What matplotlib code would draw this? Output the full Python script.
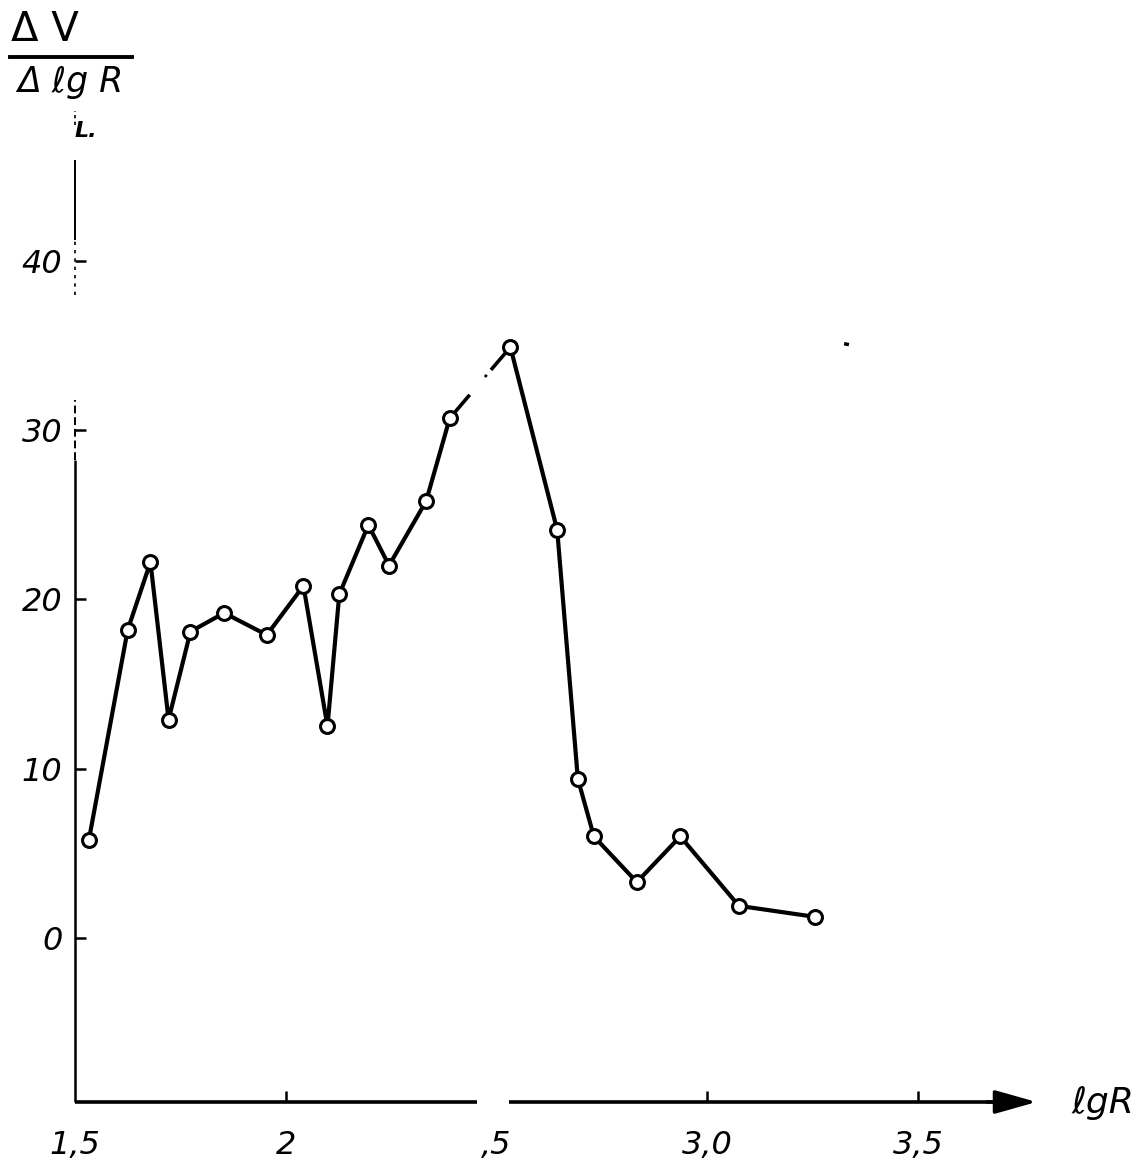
import numpy as np
import matplotlib
matplotlib.use("Agg")
import matplotlib.pyplot as plt
from matplotlib.lines import Line2D

# Measured points: lg R against dV / d(lg R)
lg_r = [1.533, 1.625, 1.679, 1.722, 1.774, 1.854, 1.955, 2.042, 2.099, 2.127,
        2.196, 2.245, 2.333, 2.389, 2.533, 2.644, 2.693, 2.731, 2.833, 2.936,
        3.075, 3.255]
dv_dlgr = [5.8, 18.2, 22.2, 12.9, 18.1, 19.2, 17.9, 20.8, 12.5, 20.3,
           24.4, 22.0, 25.8, 30.7, 34.9, 24.1, 9.4, 6.0, 3.3, 6.0,
           1.9, 1.25]

x_ticks = [1.5, 2.0, 2.5, 3.0, 3.5]
x_tick_labels = ["1,5", "2", ",5", "3,0", "3,5"]
y_ticks = [0, 10, 20, 30, 40]
y_tick_labels = ["0", "10", "20", "30", "40"]

W, H = 1146, 1169
fig = plt.figure(figsize=(W / 100, H / 100), dpi=100)
fig.patch.set_facecolor("white")

# axes box in pixel terms: left 75, right 1040, top 160, bottom 1102
left, right, top, bottom = 75, 1040, 160, 1102
ax = fig.add_axes([left / W, 1 - bottom / H, (right - left) / W, (bottom - top) / H])
ax.set_xlim(1.5, 1.5 + (right - left) / 421.5)
ax.set_ylim((938 - bottom) / 16.93, (938 - top) / 16.93)
for s in ax.spines.values():
    s.set_visible(False)

tick_font = dict(family="DejaVu Sans", style="italic", size=23)
ax.set_xticks(x_ticks)
ax.set_xticklabels(x_tick_labels, **tick_font)
ax.set_yticks(y_ticks)
ax.set_yticklabels(y_tick_labels, **tick_font)
ax.tick_params(axis="both", direction="in", length=8, width=1.8, color="black")
ax.tick_params(axis="x", pad=20)
ax.tick_params(axis="y", pad=9)
ax.xaxis.get_major_ticks()[0].tick1line.set_visible(False)
ax.xaxis.get_major_ticks()[2].tick1line.set_visible(False)

axis_kw = dict(color="black", transform=ax.transAxes, clip_on=False,
               solid_capstyle="butt")
# x axis, interrupted near 2,5, with arrow at the end
ax.plot([0, 0.4166], [0, 0], lw=2.6, **axis_kw)
ax.plot([0.4497, 0.96], [0, 0], lw=2.6, **axis_kw)
ax.annotate("", xy=(0.9965, 0), xytext=(0.945, 0), xycoords="axes fraction",
            arrowprops=dict(arrowstyle="-|>,head_length=0.85,head_width=0.24",
                            mutation_scale=30, lw=2.6,
                            color="black", shrinkA=0, shrinkB=0))
# y axis, faint and broken in its upper part
ax.plot([0, 0], [0, 0.6815], lw=1.8, **axis_kw)
ax.plot([0, 0], [0.6815, 0.745], lw=1.4, linestyle=(0, (4, 2)), **axis_kw)
ax.plot([0, 0], [0.857, 0.915], lw=1.2, linestyle=(0, (2, 3)), **axis_kw)
ax.plot([0, 0], [0.915, 1.0], lw=1.4, **axis_kw)
ax.plot([0, 0], [1.037, 1.052], lw=1.2, linestyle=(0, (2, 2)), **axis_kw)

x = np.array(lg_r)
y = np.array(dv_dlgr)
line_kw = dict(color="black", lw=3.0, solid_joinstyle="round",
               solid_capstyle="round", zorder=3)
ax.plot(x[:14], y[:14], **line_kw)
ax.plot(x[14:], y[14:], **line_kw)

# bridge between points 14 and 15 is only partly inked
def piece(t0, t1, lw):
    xs = x[13] + np.array([t0, t1]) * (x[14] - x[13])
    ys = y[13] + np.array([t0, t1]) * (y[14] - y[13])
    ax.plot(xs, ys, color="black", lw=lw, solid_capstyle="butt", zorder=3)

piece(0.0, 0.33, 2.6)
piece(0.58, 0.61, 2.0)
piece(0.68, 1.0, 2.6)

ax.plot(x, y, linestyle="none", marker="o", markersize=10,
        markerfacecolor="white", markeredgecolor="black", markeredgewidth=2.2,
        zorder=4)

# stray ink speck
ax.plot([0.797, 0.802], [0.805, 0.804], color="black", lw=2.5,
        transform=ax.transAxes, solid_capstyle="butt")

# axis titles
ax.text(0.0, 1.02, "L.", transform=ax.transAxes, ha="left", va="bottom",
        fontsize=16, fontweight="bold", style="italic", family="DejaVu Sans")
fig.text(45 / W, 1 - 30 / H, "Δ V", ha="center", va="center", fontsize=29,
         family="DejaVu Sans")
fig.add_artist(Line2D([10 / W, 132 / W], [1 - 57 / H, 1 - 57 / H],
                      color="black", lw=2.8, transform=fig.transFigure))
fig.text(70 / W, 1 - 82 / H, "Δ ℓg R", ha="center", va="center", fontsize=25,
         style="italic", family="DejaVu Sans")
fig.text(1103 / W, 1 - 1103 / H, "ℓgR", ha="center", va="center", fontsize=26,
         style="italic", family="DejaVu Sans")

fig.savefig("out.png", dpi=100, facecolor="white")
